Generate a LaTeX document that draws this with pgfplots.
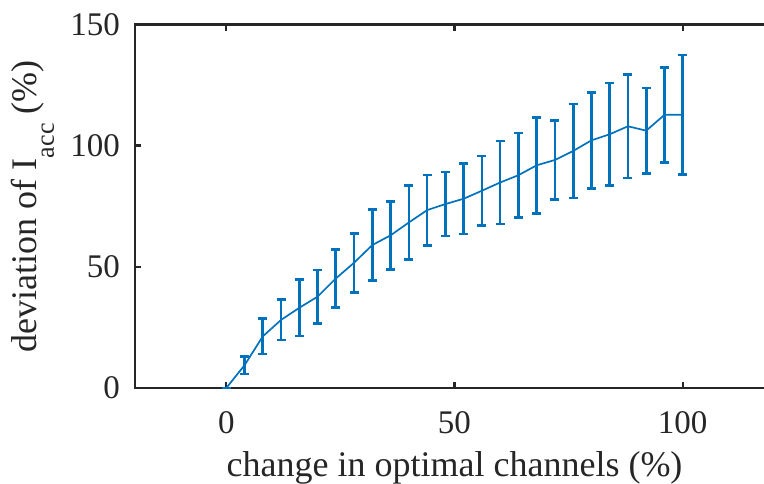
\documentclass[border=0pt]{standalone}
\usepackage{fontspec}
\setmainfont{Liberation Serif}
\usepackage{pgfplots}
\pgfplotsset{compat=1.18}
\definecolor{mblue}{HTML}{0072BD}
\definecolor{axgray}{HTML}{262626}
\begin{document}
\begin{tikzpicture}
\begin{axis}[
  scale only axis,
  width=639pt, height=363.5pt,
  xmin=-20, xmax=120, ymin=0, ymax=150,
  xtick={0,50,100}, ytick={0,50,100,150},
  tick align=inside,
  major tick length=6pt,
  axis line style={axgray, line width=2.4pt},
  every tick/.style={axgray, line width=2.4pt},
  /pgf/number format/assume math mode=true,
  tick label style={font=\fontsize{33}{33}\selectfont, text=axgray},
  yticklabel style={inner sep=0pt, xshift=-15pt},
  xticklabel style={inner sep=0pt, yshift=-23pt},
  label style={font=\fontsize{36}{36}\selectfont, text=axgray},
  xlabel={change in optimal channels (\%)},
  ylabel={deviation of I\raisebox{-17pt}{\fontsize{26}{26}\selectfont acc} (\%)},
  xlabel style={at={(axis description cs:0.5,-0.2432)}, anchor=base},
  ylabel style={at={(axis description cs:-0.1534,0.5)}, anchor=base},
]
\addplot[mblue, line width=1.7pt,
  error bars/.cd, y dir=both, y explicit,
  error bar style={mblue, line width=2.7pt},
  error mark options={mblue, rotate=90, mark size=4.5pt, line width=2.7pt}]
coordinates {
(0,0) +- (0,0)
(4,9.4) +- (0,3.6)
(8,21.3) +- (0,7.3)
(12,28.1) +- (0,8.3)
(16,33.1) +- (0,11.6)
(20,37.7) +- (0,11.0)
(24,45.2) +- (0,11.9)
(28,51.7) +- (0,12.2)
(32,59.0) +- (0,14.6)
(36,63.0) +- (0,14.0)
(40,68.3) +- (0,15.2)
(44,73.4) +- (0,14.5)
(48,75.9) +- (0,13.2)
(52,78.1) +- (0,14.6)
(56,81.4) +- (0,14.3)
(60,84.8) +- (0,17.1)
(64,87.8) +- (0,17.4)
(68,91.9) +- (0,19.8)
(72,94.1) +- (0,16.2)
(76,97.8) +- (0,19.4)
(80,102.2) +- (0,19.8)
(84,104.7) +- (0,21.1)
(88,108.0) +- (0,21.3)
(92,106.2) +- (0,17.6)
(96,112.7) +- (0,19.6)
(100,112.8) +- (0,24.6)
};
\end{axis}
\pgfresetboundingbox
\path[use as bounding box] (-135pt,-95pt) rectangle (629pt,388pt);
\end{tikzpicture}
\end{document}
